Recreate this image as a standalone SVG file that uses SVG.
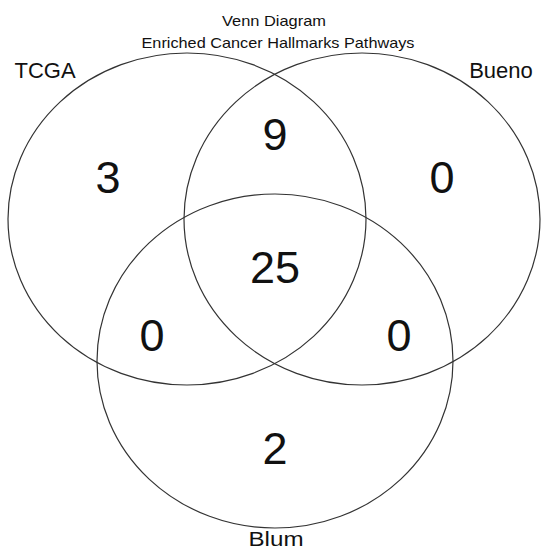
<svg xmlns="http://www.w3.org/2000/svg" width="542" height="552" viewBox="0 0 542 552">
<style>
.c{fill:none;stroke:#333;stroke-width:1.2}
.t{font-family:"Liberation Sans",Arial,sans-serif;fill:#111;text-anchor:middle}
.s{font-size:15px}
.l{font-size:22px}
.b{font-size:20px}
.n{font-size:45px}
</style>
<rect width="542" height="552" fill="#fff"/>
<g id="title">
<text class="t s" x="274" y="26" textLength="104" lengthAdjust="spacingAndGlyphs">Venn Diagram</text>
<text class="t s" x="278" y="48" textLength="273" lengthAdjust="spacingAndGlyphs">Enriched Cancer Hallmarks Pathways</text>
</g>
<g id="tcga">
<ellipse class="c" cx="187" cy="219" rx="179" ry="166"/>
<text class="t l" x="45" y="78">TCGA</text>
</g>
<g id="bueno">
<ellipse class="c" cx="362" cy="219" rx="178" ry="166"/>
<text class="t l" x="501" y="78">Bueno</text>
</g>
<g id="blum">
<ellipse class="c" cx="275" cy="361" rx="178" ry="167"/>
<text class="t b" x="276" y="546" textLength="55" lengthAdjust="spacingAndGlyphs">Blum</text>
</g>
<g id="counts">
<text class="t n" x="108" y="193">3</text>
<text class="t n" x="275" y="150">9</text>
<text class="t n" x="442" y="193">0</text>
<text class="t n" x="275" y="283">25</text>
<text class="t n" x="152" y="351">0</text>
<text class="t n" x="399" y="351">0</text>
<text class="t n" x="275" y="464">2</text>
</g>
</svg>
